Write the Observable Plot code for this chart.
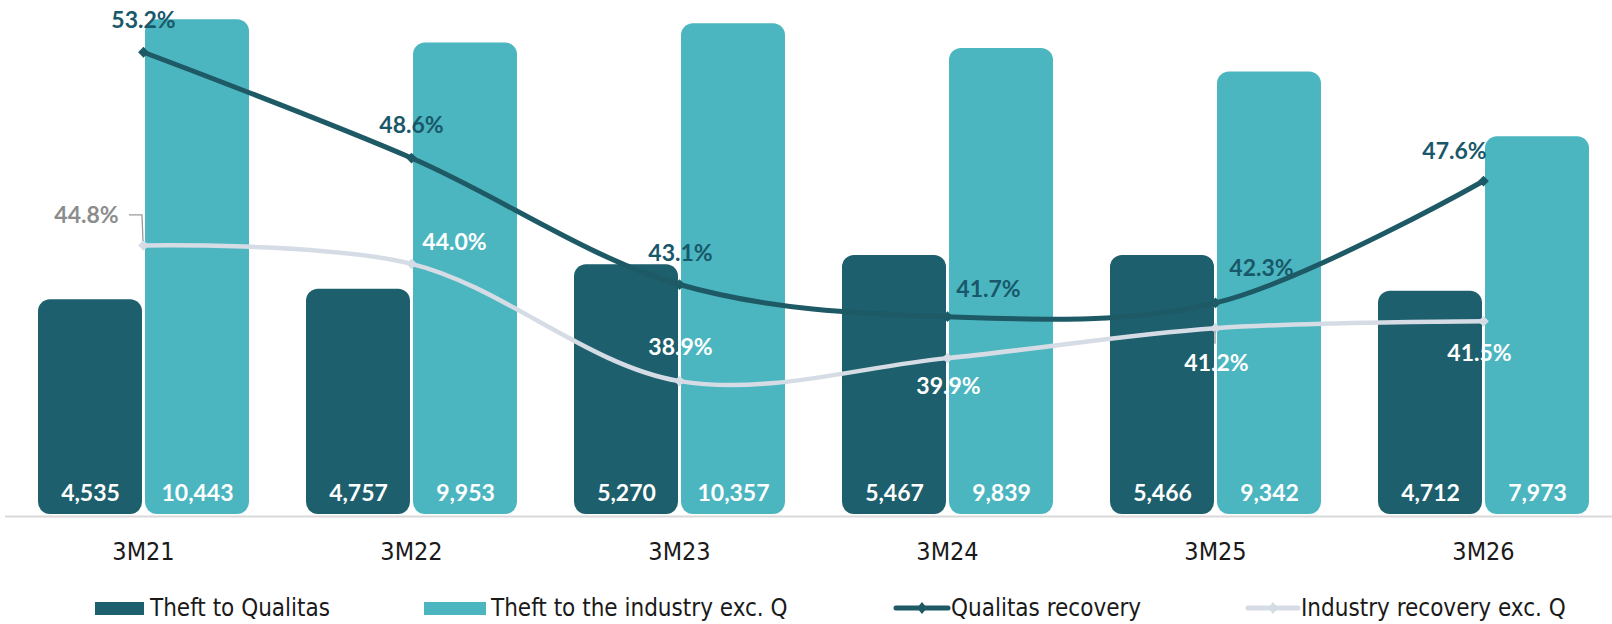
<!DOCTYPE html>
<html><head><meta charset="utf-8">
<script src="https://cdn.jsdelivr.net/npm/d3@7"></script>
<script src="https://cdn.jsdelivr.net/npm/@observablehq/plot@0.6"></script>
<style>
body{margin:0;background:#fff;}
#chart{position:relative;width:1612px;height:624px;overflow:hidden;}
#chart svg{position:absolute;left:0;top:0;overflow:visible;}
#legend{position:absolute;left:0;top:580px;width:1612px;height:44px;font-family:"Liberation Sans Narrow","DejaVu Sans Condensed",Roboto,sans-serif;font-size:24px;color:#1a1a1a;}
.li{position:absolute;top:8px;height:28px;line-height:28px;white-space:nowrap;}
.sw{position:absolute;top:22px;height:13px;}
</style></head><body><div id="chart"><div id="legend"></div></div>
<script>
const categories = ["3M21","3M22","3M23","3M24","3M25","3M26"];
const theftQualitas = [4535,4757,5270,5467,5466,4712];
const theftIndustry = [10443,9953,10357,9839,9342,7973];
const qualitasRecovery = [53.2,48.6,43.1,41.7,42.3,47.6];
const industryRecovery = [44.8,44.0,38.9,39.9,41.2,41.5];
const seriesNames = ["Theft to Qualitas","Theft to the industry exc. Q","Qualitas recovery","Industry recovery exc. Q"];

// label placement (pixel offsets from each point)
const qualLabelOffsets = [[0,-32],[0,-32],[1,-31],[41,-27],[46,-34],[-29,-29]];
const indLabelOffsets = [[-57,-30],[43,-21],[1,-33],[1,29],[1,35],[-4,32]];

const C = {dark:"#1d5f6d", light:"#4bb6bf", qLine:"#1e5966", qText:"#18586a", iLine:"#d6dce5", gray:"#8c8c8c"};
const W = 1612, H = 580;
const M = {marginLeft:23, marginRight:9, marginTop:0, marginBottom:66};
const yMax = 10850;
const numFont = "Lato, 'Open Sans', sans-serif";
const axFont = "'Liberation Sans Narrow','DejaVu Sans Condensed',Roboto,sans-serif";

const barData = categories.flatMap((c,i)=>[
  {cat:c, series:seriesNames[0], value:theftQualitas[i]},
  {cat:c, series:seriesNames[1], value:theftIndustry[i]}
]);
const yPct = d3.scaleLinear().domain([33.1, 55.45]).range([0, yMax]);
const lineData = categories.map((c,i)=>({cat:c, q:yPct(qualitasRecovery[i]), ind:yPct(industryRecovery[i]), qv:qualitasRecovery[i], iv:industryRecovery[i]}));
const fmt = d3.format(",");

const bars = Plot.plot({
  width:W, height:H, ...M,
  fx:{domain:categories, paddingInner:0.21, paddingOuter:0.05, label:null},
  x:{domain:seriesNames.slice(0,2), paddingInner:0.03, paddingOuter:0, axis:null},
  y:{domain:[0,yMax], axis:null},
  color:{domain:seriesNames.slice(0,2), range:[C.dark, C.light]},
  marks:[
    Plot.barY(barData, {fx:"cat", x:"series", y:"value", fill:"series", rx:12}),
    Plot.text(barData, {fx:"cat", x:"series", y:d=>0, dy:-21, text:d=>fmt(d.value), fill:"white", fontWeight:"bold", fontSize:23, fontFamily:numFont}),
    Plot.axisFx({anchor:"bottom", tickSize:0, tickPadding:28, fontSize:25, fontFamily:axFont, label:null, color:"#1a1a1a"})
  ]
});

const pctText = v => v.toFixed(1) + "%";
const overlayMarks = [
  Plot.ruleY([0], {stroke:"#d9d9d9", strokeWidth:2, dy:2, insetLeft:-18, insetRight:-9}),
  Plot.line(lineData, {x:"cat", y:"ind", stroke:C.iLine, strokeWidth:4.5, curve:"catmull-rom"}),
  Plot.dot(lineData, {x:"cat", y:"ind", symbol:"square", rotate:45, r:4.3, fill:C.iLine}),
  Plot.line(lineData, {x:"cat", y:"q", stroke:C.qLine, strokeWidth:5, curve:"catmull-rom"}),
  Plot.dot(lineData, {x:"cat", y:"q", symbol:"square", rotate:45, r:4.3, fill:C.qLine}),
];
lineData.forEach((d,i)=>{
  overlayMarks.push(Plot.text([d], {x:"cat", y:"q", text:dd=>pctText(dd.qv), dx:qualLabelOffsets[i][0], dy:qualLabelOffsets[i][1], fill:C.qText, fontWeight:"bold", fontSize:23, fontFamily:numFont}));
  overlayMarks.push(Plot.text([d], {x:"cat", y:"ind", text:dd=>pctText(dd.iv), dx:indLabelOffsets[i][0], dy:indLabelOffsets[i][1], fill:i===0?C.gray:"white", fontWeight:"bold", fontSize:23, fontFamily:numFont}));
});
const overlay = Plot.plot({
  width:W, height:H, ...M,
  style:{background:"transparent", overflow:"visible"},
  x:{type:"band", domain:categories, paddingInner:0.21, paddingOuter:0.05, axis:null},
  y:{domain:[0,yMax], axis:null},
  marks:overlayMarks
});

const chart = document.getElementById("chart");
chart.insertBefore(bars, chart.firstChild);
chart.insertBefore(overlay, document.getElementById("legend"));

// leader lines for industry labels
try {
  const sx = overlay.scale("x"), sy = overlay.scale("y");
  const px = c => sx.apply(c) + sx.bandwidth/2;
  const sel = d3.select(overlay);
  const p0x = px(categories[0]), p0y = sy.apply(yPct(industryRecovery[0]));
  sel.append("path").attr("d", `M${p0x-14},${p0y-30}H${p0x-1}L${p0x},${p0y-4}`).attr("fill","none").attr("stroke","#9a9a9a").attr("stroke-width",1.3);
  const p4x = px(categories[4]), p4y = sy.apply(yPct(industryRecovery[4]));
  sel.append("path").attr("d", `M${p4x},${p4y+3}V${p4y+16}`).attr("fill","none").attr("stroke","#9a9a9a").attr("stroke-width",1.3);
} catch(e) {}

// legend
const legend = d3.select("#legend");
const items = [
  {name:seriesNames[0], kind:"bar", color:C.dark, x0:95, x1:144, tx:150},
  {name:seriesNames[1], kind:"bar", color:C.light, x0:424, x1:486, tx:491},
  {name:seriesNames[2], kind:"line", color:C.qLine, x0:894, x1:950, tx:951},
  {name:seriesNames[3], kind:"line", color:C.iLine, x0:1246, x1:1300, tx:1301}
];
items.forEach(it=>{
  if (it.kind==="bar") {
    legend.append("div").attr("class","sw").style("left",it.x0+"px").style("width",(it.x1-it.x0)+"px").style("background",it.color);
  } else {
    const s = legend.append("svg").style("position","absolute").style("left",it.x0+"px").style("top","18px").attr("width",it.x1-it.x0).attr("height",20);
    s.append("line").attr("x1",2).attr("x2",it.x1-it.x0-2).attr("y1",10).attr("y2",10).attr("stroke",it.color).attr("stroke-width",5).attr("stroke-linecap","round");
    const m=(it.x1-it.x0)/2;
    s.append("path").attr("d",`M${m},4L${m+5},10L${m},16L${m-5},10Z`).attr("fill",it.color);
  }
  legend.append("div").attr("class","li").style("left",it.tx+"px").style("top","14px").text(it.name);
});
</script></body></html>
